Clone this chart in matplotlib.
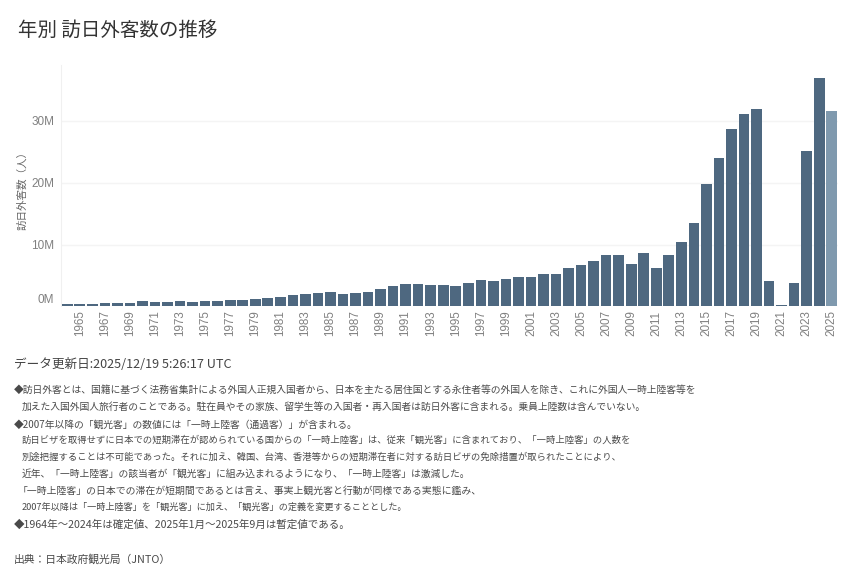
import matplotlib
matplotlib.use("Agg")
import matplotlib.pyplot as plt

plt.rcParams['font.family'] = ['Noto Sans CJK JP', 'DejaVu Sans']

years = list(range(1964, 2026))
visitors_m = [0.35, 0.37, 0.43, 0.48, 0.52, 0.61, 0.85, 0.66, 0.72, 0.78, 0.76, 0.81,
              0.91, 1.03, 1.04, 1.11, 1.32, 1.58, 1.79, 1.97, 2.11, 2.33, 2.06, 2.16,
              2.36, 2.84, 3.24, 3.53, 3.58, 3.41, 3.47, 3.35, 3.84, 4.22, 4.11, 4.44,
              4.76, 4.77, 5.24, 5.21, 6.14, 6.73, 7.33, 8.35, 8.35, 6.79, 8.61, 6.22,
              8.36, 10.36, 13.41, 19.74, 24.04, 28.69, 31.19, 31.88, 4.12, 0.25, 3.83,
              25.07, 36.87, 31.65]
provisional_year = 2025
y_ticks = [0, 10, 20, 30]
y_tick_labels = ['0M', '10M', '20M', '30M']

title = '年別 訪日外客数の推移'
y_title = '訪日外客数（人）'
updated = 'データ更新日:2025/12/19 5:26:17 UTC'
notes = [
    '◆訪日外客とは、国籍に基づく法務省集計による外国人正規入国者から、日本を主たる居住国とする永住者等の外国人を除き、これに外国人一時上陸客等を',
    '加えた入国外国人旅行者のことである。駐在員やその家族、留学生等の入国者・再入国者は訪日外客に含まれる。乗員上陸数は含んでいない。',
    '◆2007年以降の「観光客」の数値には「一時上陸客（通過客）」が含まれる。',
    '訪日ビザを取得せずに日本での短期滞在が認められている国からの「一時上陸客」は、従来「観光客」に含まれており、「一時上陸客」の人数を',
    '別途把握することは不可能であった。それに加え、韓国、台湾、香港等からの短期滞在者に対する訪日ビザの免除措置が取られたことにより、',
    '近年、「一時上陸客」の該当者が「観光客」に組み込まれるようになり、「一時上陸客」は激減した。',
    '「一時上陸客」の日本での滞在が短期間であるとは言え、事実上観光客と行動が同様である実態に鑑み、',
    '2007年以降は「一時上陸客」を「観光客」に加え、「観光客」の定義を変更することとした。',
    '◆1964年～2024年は確定値、2025年1月～2025年9月は暫定値である。',
]
note_y_px = [390, 407, 425, 440, 457, 474, 491, 507, 525]
note_x_px = [14, 22, 14, 22, 22, 22, 18, 22, 14]
note_size = [7.05, 7.05, 7.05, 6.72, 6.73, 7.05, 7.08, 6.6, 7.6]
source = '出典：日本政府観光局（JNTO）'

W, H = 848, 570
fig = plt.figure(figsize=(W / 100, H / 100), dpi=100, facecolor='white')
L, R, T, B = 61, 838, 65, 306.3
ax = fig.add_axes([L / W, 1 - B / H, (R - L) / W, (B - T) / H])
colors = ['#7f99ae' if y == provisional_year else '#4e6880' for y in years]
ax.bar(years, visitors_m, width=0.85, color=colors, linewidth=0, zorder=3)
ax.set_xlim(1963.5, 2025.5)
ax.set_ylim(0, 39.05)
ax.grid(axis='y', color='#f4f4f4', linewidth=1, zorder=0)
ax.set_axisbelow(True)
for s in ['top', 'right', 'bottom']:
    ax.spines[s].set_visible(False)
ax.spines['left'].set_color('#f0f0f0')
ax.set_yticks(y_ticks)
ax.set_yticklabels(y_tick_labels, family=['Liberation Sans'], fontsize=8.5, color='#808080')
ax.get_yticklabels()[0].set_va('bottom')
ax.tick_params(axis='y', length=0, pad=5)
xt = [y for y in years if y % 2 == 1]
ax.set_xticks(xt)
ax.set_xticklabels([str(y) for y in xt], rotation=90, family=['Liberation Sans'],
                   fontsize=8.4, color='#808080')
ax.tick_params(axis='x', length=0, pad=3)

def t(x, y, s, **k):
    fig.text(x / W, 1 - y / H, s, va='center', ha='left', **k)

t(18, 30, title, fontsize=14, color='#333333')
fig.text(22 / W, 1 - 188.5 / H, y_title, rotation=90, va='center', ha='center',
         fontsize=7.6, color='#666666')
t(14, 365, updated, fontsize=9.1, color='#444444')
for s, x, y, fs in zip(notes, note_x_px, note_y_px, note_size):
    t(x, y, s, fontsize=fs, color='#4a4a4a')
t(14, 559, source, fontsize=7.75, color='#4a4a4a')

fig.savefig('out.png', dpi=100, facecolor='white')
